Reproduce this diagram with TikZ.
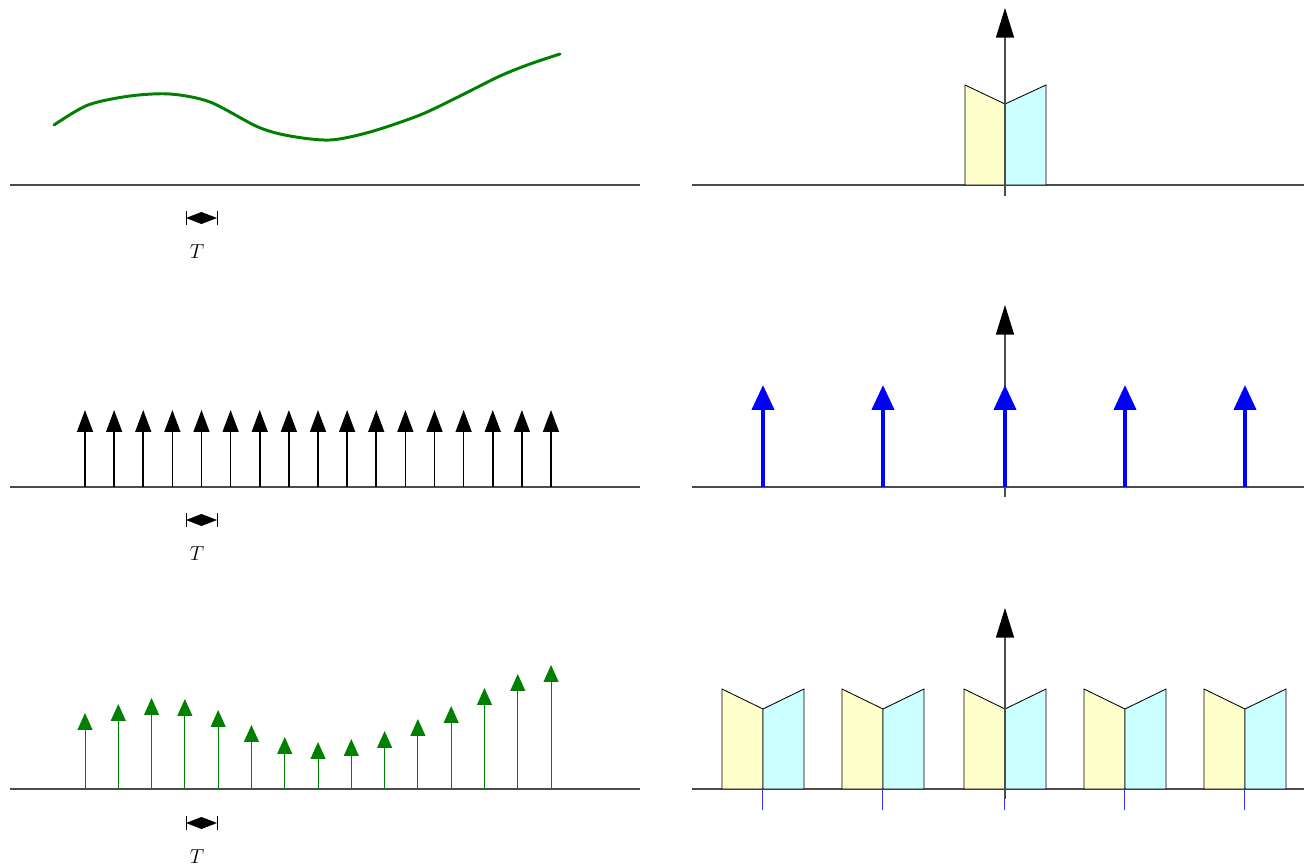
\documentclass[tikz,border=0pt]{standalone}
\usetikzlibrary{arrows.meta}
\definecolor{signal}{HTML}{008000}
\definecolor{pulse}{HTML}{0000FF}
\definecolor{lefthalf}{HTML}{FFFFCC}
\definecolor{righthalf}{HTML}{CCFFFF}
\tikzset{
 axis/.style={black!70,line width=0.8pt},
 impulse/.style={black,line width=1.2pt,-{Triangle[width=11.3pt,length=15.6pt]}},
 sample/.style={signal,line width=0.7pt,-{Triangle[width=10.6pt,length=12pt]}},
 comb/.style={pulse,line width=2.8pt,-{Triangle[width=15.6pt,length=17.7pt]}},
 vaxis/.style={black!70,line width=0.8pt,-{Triangle[width=12.8pt,length=21pt,black]}},
 halfpanel/.style={draw=black,line width=0.6pt}
}
\begin{document}
\begin{tikzpicture}[x=0.025cm,y=-0.025cm]
\useasboundingbox (0,0) rectangle (1304,868);
% left column: signal, comb, sampled signal
\foreach \y in {185,487,789} \draw[axis] (10,\y)--(640,\y);
\draw[signal,line width=2.1pt,line cap=round] plot[smooth] coordinates {(54,125) (88,105) (130,96) (170,94) (210,102) (258,127) (290,136) (330,140) (370,132) (420,115) (460,96) (500,76) (530,64) (560,54)};
\foreach \i in {0,...,16} \draw[impulse] (85+29.125*\i,487)--(85+29.125*\i,410);
\foreach \i/\t in {0/713,1/704,2/698,3/699,4/710,5/725,6/737,7/742,8/739,9/731,10/719,11/706,12/688,13/674,14/665}
 \draw[sample] (85+33.29*\i,789)--(85+33.29*\i,\t);
% spacing marks
\foreach \y in {218,520,823} {
 \draw[black,line width=0.6pt] (186,\y-7)--(186,\y+7) (217,\y-7)--(217,\y+7);
 \fill[black] (186,\y)--(201.5,\y-6)--(217,\y)--(201.5,\y+6)--cycle;
 \node[font=\fontsize{15}{18}\selectfont] at (197,\y+34) {$T$};
}
% right column: spectrum, comb spectrum, periodic spectrum
\foreach \y in {185,487,789} \draw[axis] (692,\y)--(1304,\y);
\filldraw[halfpanel,fill=lefthalf] (965,185)--(965,85)--(1005,104)--(1005,185)--cycle;
\filldraw[halfpanel,fill=righthalf] (1005,185)--(1005,104)--(1046,85)--(1046,185)--cycle;
\draw[vaxis] (1005,196)--(1005,8);
\draw[vaxis] (1005,497)--(1005,305);
\foreach \x in {763,883,1005,1125,1245} \draw[comb] (\x,487)--(\x,385);
\foreach \x in {763,883,1005,1125,1245} {
 \filldraw[halfpanel,fill=lefthalf] (\x-41,789)--(\x-41,689)--(\x,709)--(\x,789)--cycle;
 \filldraw[halfpanel,fill=righthalf] (\x,789)--(\x,709)--(\x+41,689)--(\x+41,789)--cycle;
 \draw[pulse!80,line width=0.7pt] (\x-1,789)--(\x-1,810);
}
\draw[vaxis] (1005,799)--(1005,608);
\end{tikzpicture}
\end{document}
